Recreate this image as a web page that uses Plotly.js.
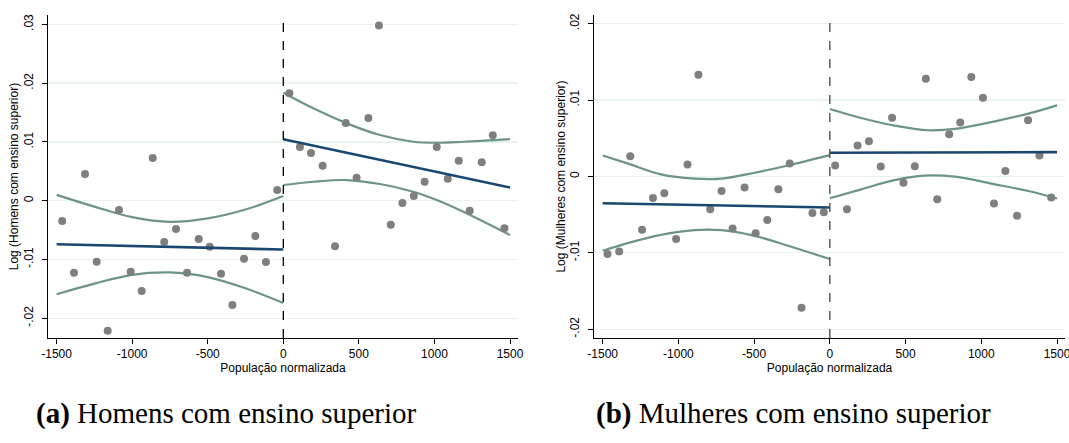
<!DOCTYPE html>
<html><head><meta charset="utf-8">
<script src="https://cdn.plot.ly/plotly-3.0.1.min.js"></script>
<style>html,body{margin:0;padding:0;background:#fff}#chart{width:1069px;height:443px}</style>
</head><body><div id="chart"></div>
<script>
// ---- Panel (a): Homens com ensino superior ----
const hxLeft = [-1463,-1385,-1312,-1235,-1162,-1087,-1010,-937,-864,-788,-710,-637,-560,-487,-412,-337,-260,-185,-115,-40];
const hyLeft = [-0.00345,-0.01224,0.00454,-0.01037,-0.0221,-0.00158,-0.01207,-0.01536,0.00726,-0.00702,-0.00481,-0.01224,-0.00651,-0.00782,-0.01241,-0.01774,-0.00986,-0.0060,-0.01043,0.00182];
const hxRight = [40,110,183,260,342,413,485,563,633,711,788,863,935,1015,1088,1161,1233,1313,1386,1463];
const hyRight = [0.01827,0.00913,0.00811,0.00595,-0.00776,0.01321,0.00391,0.01406,0.0298,-0.00408,-0.00039,0.0008,0.00323,0.00913,0.00374,0.0068,-0.0017,0.00653,0.01112,-0.00469];
const hFitLeftX = [-1500,0], hFitLeftY = [-0.0074,-0.0083];
const hFitRightX = [0,1500], hFitRightY = [0.01044,0.00225];
const hCiLeftX = [-1500,-1250,-1000,-750,-500,-250,0];
const hCiLeftUp = [0.0010,-0.0010,-0.0028,-0.0036,-0.0030,-0.0015,0.0008];
const hCiLeftLo = [-0.0159,-0.0141,-0.0126,-0.0122,-0.0130,-0.0149,-0.0174];
const hCiRightX = [0,199,420,640,860,1015,1191,1500];
const hCiRightUp = [0.01837,0.01571,0.01316,0.01117,0.01003,0.00986,0.01003,0.01049];
const hCiRightLo = [0.00267,0.00323,0.00352,0.00284,0.00153,0.00012,-0.00187,-0.00583];

// ---- Panel (b): Mulheres com ensino superior ----
const mxLeft = [-1468,-1391,-1318,-1240,-1168,-1093,-1015,-940,-868,-790,-715,-642,-563,-490,-413,-340,-265,-187,-115,-40];
const myLeft = [-0.01017,-0.00982,0.00265,-0.007,-0.00283,-0.00222,-0.00821,0.00156,0.0133,-0.0043,-0.00192,-0.00682,-0.00147,-0.00743,-0.0057,-0.0017,0.0017,-0.01721,-0.00478,-0.00469];
const mxRight = [35,113,183,258,336,411,486,561,634,709,788,861,934,1011,1084,1159,1236,1309,1384,1462];
const myRight = [0.00143,-0.0043,0.00404,0.0046,0.0013,0.00769,-0.00083,0.00134,0.01278,-0.003,0.00552,0.00704,0.013,0.0103,-0.00356,0.00069,-0.00517,0.00734,0.00274,-0.00278];
const mFitLeftX = [-1500,0], mFitLeftY = [-0.00352,-0.00408];
const mFitRightX = [0,1500], mFitRightY = [0.00309,0.00317];
const mCiLeftX = [-1500,-1336,-1115,-894,-717,-497,-276,0];
const mCiLeftUp = [0.00274,0.0017,0.00026,-0.0003,-0.0003,0.00048,0.00143,0.00278];
const mCiLeftLo = [-0.00974,-0.00874,-0.00765,-0.00704,-0.00704,-0.00778,-0.00908,-0.01082];
const mCiRightX = [0,207,428,649,826,1091,1311,1500];
const mCiRightUp = [0.00883,0.00765,0.00665,0.00604,0.00622,0.00721,0.00821,0.0093];
const mCiRightLo = [-0.00287,-0.0017,-0.00048,0.00013,-0.00004,-0.00104,-0.00192,-0.0029];

// ---- tick labels ----
const xTickVals = [-1500,-1000,-500,0,500,1000,1500];
const xTickText = ['-1500','-1000','-500','0','500','1000','1500'];
const hYTickVals = [-0.02,-0.01,0,0.01,0.02,0.03];
const hYTickText = ['-.02','-.01','0','.01','.02','.03'];
const mYTickVals = [-0.02,-0.01,0,0.01,0.02];
const mYTickText = ['-.02','-.01','0','.01','.02'];

const GRAY = '#7f7f7f', NAVY = '#1a476f', CI = '#6b9686';
function pts(x,y,ax){return {x:x,y:y,mode:'markers',type:'scatter',xaxis:ax[0],yaxis:ax[1],marker:{color:GRAY,size:8},hoverinfo:'skip'};}
function ln(x,y,ax,c,w){return {x:x,y:y,mode:'lines',type:'scatter',xaxis:ax[0],yaxis:ax[1],line:{color:c,width:w,shape:'spline',smoothing:1},hoverinfo:'skip'};}
const A=['x','y'], B=['x2','y2'];
const data = [
  ln(hCiLeftX,hCiLeftUp,A,CI,2.2), ln(hCiLeftX,hCiLeftLo,A,CI,2.2),
  ln(hCiRightX,hCiRightUp,A,CI,2.2), ln(hCiRightX,hCiRightLo,A,CI,2.2),
  pts(hxLeft,hyLeft,A), pts(hxRight,hyRight,A),
  ln(hFitLeftX,hFitLeftY,A,NAVY,2.6), ln(hFitRightX,hFitRightY,A,NAVY,2.6),
  ln(mCiLeftX,mCiLeftUp,B,CI,2.2), ln(mCiLeftX,mCiLeftLo,B,CI,2.2),
  ln(mCiRightX,mCiRightUp,B,CI,2.2), ln(mCiRightX,mCiRightLo,B,CI,2.2),
  pts(mxLeft,myLeft,B), pts(mxRight,myRight,B),
  ln(mFitLeftX,mFitLeftY,B,NAVY,2.6), ln(mFitRightX,mFitRightY,B,NAVY,2.6)
];
const font = {family:'Liberation Sans, Arial, sans-serif', size:12, color:'#000'};
function xax(dom, anchor){return {domain:dom, anchor:anchor, range:[-1557,1553], tickvals:xTickVals, ticktext:xTickText,
  showline:true, linecolor:'#000', linewidth:1, ticks:'outside', ticklen:5, tickcolor:'#000', showgrid:false, zeroline:false,
  ticklabeloverflow:'allow', tickfont:font, title:{text:'População normalizada', font:font, standoff:2}};}
function yax(dom, anchor, range, tv, tt, title){return {domain:dom, anchor:anchor, range:range, tickvals:tv, ticktext:tt, tickangle:-90,
  showline:true, linecolor:'#000', linewidth:1, ticks:'outside', ticklen:5, tickcolor:'#000', showgrid:true, gridcolor:'#eaf1f1', gridwidth:1.3,
  zeroline:false, ticklabelstandoff:4, tickfont:font, title:{text:title, font:font, standoff:0}};}
const ydom = [0.237, 0.966];
const layout = {
  width:1069, height:443, margin:{l:0,r:0,t:0,b:0}, showlegend:false,
  paper_bgcolor:'#fff', plot_bgcolor:'#fff', font:font,
  xaxis: xax([0.0449,0.4846],'y'),
  yaxis: yax(ydom,'x',[-0.02335,0.03158],hYTickVals,hYTickText,'Log (Homens com ensino superior)'),
  xaxis2: xax([0.5557,0.9963],'y2'),
  yaxis2: yax(ydom,'x2',[-0.02116,0.02112],mYTickVals,mYTickText,'Log (Mulheres com ensino superior)'),
  shapes:[
    {type:'line', xref:'x', yref:'y domain', x0:0, x1:0, y0:0, y1:1, line:{color:'#000', width:1.3, dash:'dash'}},
    {type:'line', xref:'x2', yref:'y2 domain', x0:0, x1:0, y0:0, y1:1, line:{color:'#444', width:1.3, dash:'dash'}}
  ],
  annotations:[
    {xref:'paper', yref:'paper', x:226/1069, y:1-413/443, xanchor:'center', yanchor:'middle', showarrow:false,
     text:'<b>(a)</b> Homens com ensino superior', font:{family:'Liberation Serif, Times New Roman, serif', size:29, color:'#000'}},
    {xref:'paper', yref:'paper', x:793/1069, y:1-413/443, xanchor:'center', yanchor:'middle', showarrow:false,
     text:'<b>(b)</b> Mulheres com ensino superior', font:{family:'Liberation Serif, Times New Roman, serif', size:29, color:'#000'}}
  ]
};
Plotly.newPlot('chart', data, layout, {staticPlot:true});
</script></body></html>
